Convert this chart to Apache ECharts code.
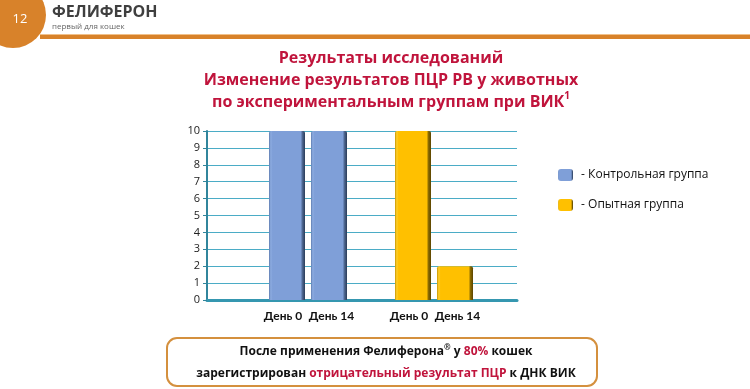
<!DOCTYPE html>
<html>
<head>
<meta charset="utf-8">
<script src="https://cdn.jsdelivr.net/npm/echarts@6/dist/echarts.min.js"></script>
<style>
    html, body { margin: 0; padding: 0; background: #fff; }
    #main { width: 750px; height: 389px; }
</style>
</head>
<body>
<div id="main"></div>
<script>
// данные графика
var categories = ['День 0', 'День 14', '', 'День 0', 'День 14'];
var controlValues = [10, 10, '-', '-', '-'];
var testValues = ['-', '-', '-', 10, 2];
var yTicks = [0, 10, 1]; // min, max, шаг
var seriesNames = ['Контрольная группа', 'Опытная группа'];

var font = '"Open Sans", "Noto Sans", sans-serif';
var narrow = 'Lato, "Open Sans", sans-serif';
var red = '#C0143C';
var orange = '#D8822A';

// объемная заливка столбцов (темные края, справа тень)
function barFill(edgeL, light, mid, dark, edgeR) {
    return new echarts.graphic.LinearGradient(0, 0, 1, 0, [
        {offset: 0, color: edgeL},
        {offset: 0.05, color: light},
        {offset: 0.1, color: mid},
        {offset: 0.88, color: mid},
        {offset: 0.93, color: dark},
        {offset: 1, color: edgeR}
    ]);
}
var blueFill = barFill('#5f7db0', '#8cabe0', '#7f9fd8', '#4d6690', '#2a3b58');
var yellowFill = barFill('#c79500', '#ffcf2a', '#ffc000', '#8a6a00', '#5a4400');

var chart = echarts.init(document.getElementById('main'));
var option = {
    animation: false,
    title: {
        left: 386,
        top: 42,
        textAlign: 'center',
        text: '{a|Результаты исследований}\n{a|Изменение результатов ПЦР РВ у животных}\n{a|по экспериментальным группам при ВИК}{s|1}',
        textStyle: {
            rich: {
                a: {fontFamily: font, fontSize: 16, fontWeight: 'bold', color: red, lineHeight: 22},
                s: {fontFamily: font, fontSize: 10, fontWeight: 'bold', color: red, lineHeight: 16, verticalAlign: 'top'}
            }
        }
    },
    legend: {
        orient: 'vertical',
        left: 558,
        top: 169,
        padding: 0,
        itemWidth: 15,
        itemHeight: 12,
        itemGap: 18,
        formatter: ' - {name}',
        textStyle: {fontFamily: font, fontSize: 12, color: '#111'},
        data: seriesNames
    },
    grid: [
        {left: 207, right: 233, top: 131, bottom: 89},
        {left: 266, right: 274, top: 131, bottom: 89}
    ],
    xAxis: [
        {
            gridIndex: 0, type: 'category', data: [''],
            axisLine: {lineStyle: {color: '#3597b0', width: 3}},
            axisTick: {show: false}, axisLabel: {show: false}
        },
        {
            gridIndex: 1, type: 'category', data: categories,
            axisLine: {show: false}, axisTick: {show: false},
            axisLabel: {
                interval: 0, margin: 10, fontFamily: narrow, fontSize: 12, fontWeight: 'bold', color: '#111',
                // раздвигаем подписи внутри группы
                formatter: function (v, i) {
                    return i % 3 === 0 ? '{l|' + v + '}' : '{r|' + v + '}';
                },
                rich: {
                    l: {fontFamily: narrow, fontSize: 12, fontWeight: 'bold', color: '#111', padding: [0, 8, 0, 0]},
                    r: {fontFamily: narrow, fontSize: 12, fontWeight: 'bold', color: '#111', padding: [0, 0, 0, 5]}
                }
            }
        }
    ],
    yAxis: [
        {
            gridIndex: 0, type: 'value', min: yTicks[0], max: yTicks[1], interval: yTicks[2],
            axisLine: {show: true, lineStyle: {color: '#31859c', width: 2}},
            axisTick: {show: true, length: 4, lineStyle: {color: '#31859c'}},
            axisLabel: {margin: 7, fontFamily: font, fontSize: 11, color: '#222'},
            splitLine: {lineStyle: {color: '#4bacc6', width: 1}}
        },
        {
            gridIndex: 1, type: 'value', min: yTicks[0], max: yTicks[1], interval: yTicks[2],
            axisLine: {show: false}, axisTick: {show: false}, axisLabel: {show: false},
            splitLine: {show: false}
        }
    ],
    series: [
        {
            name: seriesNames[0], type: 'bar', xAxisIndex: 1, yAxisIndex: 1, stack: 'g',
            barWidth: 36, data: controlValues,
            itemStyle: {color: blueFill, borderRadius: [2, 2, 0, 0]}
        },
        {
            name: seriesNames[1], type: 'bar', xAxisIndex: 1, yAxisIndex: 1, stack: 'g',
            barWidth: 35, data: testValues,
            itemStyle: {color: yellowFill, borderRadius: [2, 2, 0, 0]}
        }
    ],
    graphic: [
        // шапка слайда
        {type: 'rect', shape: {x: 40, y: 35, width: 710, height: 4}, style: {fill: orange}},
        {type: 'rect', shape: {x: 40, y: 34, width: 710, height: 1}, style: {fill: '#f0c08a'}},
        {type: 'circle', shape: {cx: 13, cy: 15, r: 33}, style: {fill: orange}},
        {type: 'text', x: 20, y: 19, style: {text: '12', fill: '#fff', font: '13px ' + font, textAlign: 'center', textVerticalAlign: 'middle'}},
        {type: 'text', x: 52, y: 12, style: {text: 'ФЕЛИФЕРОН', fill: '#3f3f3f', font: 'bold 16px ' + font, textVerticalAlign: 'middle'}},
        {type: 'text', x: 52, y: 27, style: {text: 'первый для кошек', fill: '#666', font: '8px ' + font, textVerticalAlign: 'middle'}},
        // вывод внизу
        {type: 'rect', shape: {x: 167, y: 338, width: 430, height: 48, r: 10}, style: {fill: '#fff', stroke: '#d4903e', lineWidth: 2}},
        {
            type: 'text', x: 386, y: 363,
            style: {
                text: '{b|После применения Фелиферона}{sup|®}{b| у }{r|80%}{b| кошек}\n{b|зарегистрирован }{r|отрицательный результат ПЦР}{b| к ДНК ВИК}',
                align: 'center', verticalAlign: 'middle',
                rich: {
                    b: {fontFamily: font, fontSize: 12, fontWeight: 'bold', fill: '#111', lineHeight: 22},
                    r: {fontFamily: font, fontSize: 12, fontWeight: 'bold', fill: red, lineHeight: 22},
                    sup: {fontFamily: font, fontSize: 8, fontWeight: 'bold', fill: '#111', verticalAlign: 'bottom', padding: [0, 0, 11, 0]}
                }
            }
        }
    ]
};
chart.setOption(option);
</script>
</body>
</html>
